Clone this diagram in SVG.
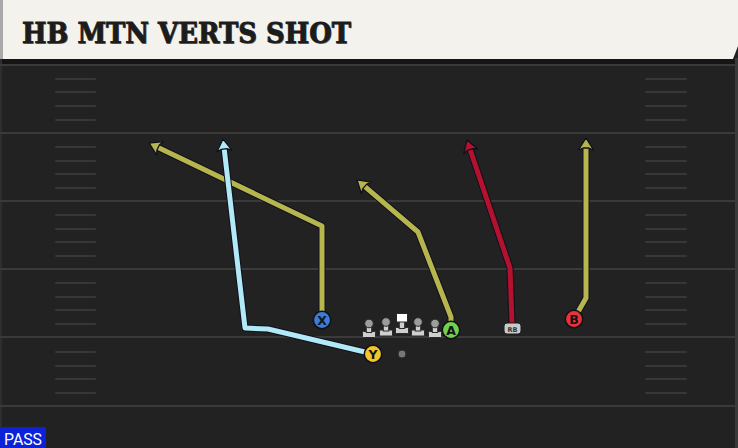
<svg xmlns="http://www.w3.org/2000/svg" width="738" height="448" viewBox="0 0 738 448">
<style>
.fl{stroke:#3a3a3a;stroke-width:2}
.hs{stroke:#373737;stroke-width:2;stroke-linecap:round}
.ol{fill:none;stroke:#10101c;stroke-width:7;stroke-linejoin:round;stroke-linecap:round}
.rt{fill:none;stroke-width:5;stroke-linejoin:round;stroke-linecap:round}
.yl{stroke:#b7b54d}
.bl{stroke:#b1e9f6}
.rd{stroke:#b3122f}
.pc{stroke:#111;stroke-width:1.5}
.lt{font-family:"DejaVu Sans",sans-serif;font-weight:bold;font-size:12.5px;fill:#151515;text-anchor:middle}
.lm{fill:#cfcfcf;stroke:#2a2a2a;stroke-width:1}
.hd{fill:#9d9d9d;stroke:#2a2a2a;stroke-width:1}
</style>
<defs>
<marker id="ay" markerUnits="userSpaceOnUse" markerWidth="30" markerHeight="30" refX="0" refY="0" orient="auto" overflow="visible"><path d="M6.5,0 L-5.5,-7.5 L-3.5,-2.8 L-3.5,2.8 L-5.5,7.5 Z" fill="#b7b54d" stroke="#10101c" stroke-width="1.3" stroke-linejoin="round"/></marker>
<marker id="ab" markerUnits="userSpaceOnUse" markerWidth="30" markerHeight="30" refX="0" refY="0" orient="auto" overflow="visible"><path d="M6.5,0 L-5.5,-7.5 L-3.5,-2.8 L-3.5,2.8 L-5.5,7.5 Z" fill="#b1e9f6" stroke="#10101c" stroke-width="1.3" stroke-linejoin="round"/></marker>
<marker id="ar" markerUnits="userSpaceOnUse" markerWidth="30" markerHeight="30" refX="0" refY="0" orient="auto" overflow="visible"><path d="M6.5,0 L-5.5,-7.5 L-3.5,-2.8 L-3.5,2.8 L-5.5,7.5 Z" fill="#b3122f" stroke="#10101c" stroke-width="1.3" stroke-linejoin="round"/></marker>
</defs>
<rect x="0" y="0" width="738" height="448" fill="#222222"/>
<rect x="0" y="58" width="738" height="6" fill="#151515"/>
<rect x="735" y="58" width="3" height="390" fill="#3a3a3a"/>
<rect x="0" y="58" width="2" height="390" fill="#2e2e2e"/>
<g id="field">
<line class="fl" x1="0" y1="65" x2="738" y2="65"/>
<line class="fl" x1="0" y1="133" x2="738" y2="133"/>
<line class="fl" x1="0" y1="201" x2="738" y2="201"/>
<line class="fl" x1="0" y1="269" x2="738" y2="269"/>
<line class="fl" x1="0" y1="337" x2="738" y2="337"/>
<line class="fl" x1="0" y1="406" x2="738" y2="406"/>
<g id="hashes">
<path class="hs" d="M56,79H95M56,92H95M56,106H95M56,120H95M56,147H95M56,161H95M56,174H95M56,188H95M56,215H95M56,229H95M56,242H95M56,256H95M56,283H95M56,297H95M56,310H95M56,324H95M56,352H95M56,366H95M56,379H95M56,393H95"/>
<path class="hs" d="M646,79H686M646,92H686M646,106H686M646,120H686M646,147H686M646,161H686M646,174H686M646,188H686M646,215H686M646,229H686M646,242H686M646,256H686M646,283H686M646,297H686M646,310H686M646,324H686M646,352H686M646,366H686M646,379H686M646,393H686"/>
</g>
</g>
<g id="title">
<path d="M0,0 H738 V46 L733,59 H0 Z" fill="#f4f2ec"/>
<rect x="0" y="0" width="3" height="59" fill="#a9a9a9"/>
<text x="22.8" y="43.8" font-family="DejaVu Serif, serif" font-weight="bold" font-size="28" fill="#8a8a8a" textLength="329" lengthAdjust="spacingAndGlyphs">HB MTN VERTS SHOT</text>
<text x="22" y="43" font-family="DejaVu Serif, serif" font-weight="bold" font-size="28" fill="#1c1c1c" stroke="#1c1c1c" stroke-width="0.9" textLength="329" lengthAdjust="spacingAndGlyphs">HB MTN VERTS SHOT</text>
</g>
<g id="connectors">
<path class="ol" d="M322,312 L322,226 L155,146"/>
<path class="rt yl" d="M322,312 L322,226 L155,146" marker-end="url(#ay)"/>
<path class="ol" d="M365,352 L268,329 L245,328 L223.8,145.5"/>
<path class="rt bl" d="M365,352 L268,329 L245,328 L223.8,145.5" marker-end="url(#ab)"/>
<path class="ol" d="M451,322 L451,317 L418,232 L362,184.2"/>
<path class="rt yl" d="M451,322 L451,317 L418,232 L362,184.2" marker-end="url(#ay)"/>
<path class="ol" d="M512,323 L510,268 L469,146.2"/>
<path class="rt rd" d="M512,323 L510,268 L469,146.2" marker-end="url(#ar)"/>
<path class="ol" d="M578,312 L586,298 L586,144.5"/>
<path class="rt yl" d="M578,312 L586,298 L586,144.5" marker-end="url(#ay)"/>
</g>
<g id="line">
<g id="lt1"><rect class="lm" x="362.5" y="331.5" width="13" height="6" rx="1"/><rect class="lm" x="366.3" y="323" width="5.4" height="9.5"/><circle class="hd" cx="369" cy="323.5" r="4.3"/></g>
<g id="lg1"><rect class="lm" x="379.5" y="330" width="13" height="6" rx="1"/><rect class="lm" x="383.3" y="321.5" width="5.4" height="9.5"/><circle class="hd" cx="386" cy="322" r="4.3"/></g>
<g id="c"><rect class="lm" x="395.5" y="327.5" width="13" height="6" rx="1"/><rect class="lm" x="399.3" y="321" width="5.4" height="7.5"/><rect x="396.5" y="313.5" width="11" height="8.5" fill="#ffffff" stroke="#2a2a2a" stroke-width="1"/></g>
<g id="rg1"><rect class="lm" x="411.5" y="330" width="13" height="6" rx="1"/><rect class="lm" x="415.3" y="321.5" width="5.4" height="9.5"/><circle class="hd" cx="418" cy="322" r="4.3"/></g>
<g id="rt1"><rect class="lm" x="428.5" y="331.5" width="13" height="6" rx="1"/><rect class="lm" x="432.3" y="323" width="5.4" height="9.5"/><circle class="hd" cx="435" cy="323.5" r="4.3"/></g>
</g>
<g id="qb"><circle cx="402" cy="354" r="4" fill="#777777" stroke="#2a2a2a" stroke-width="1"/></g>
<g id="X"><circle class="pc" cx="322" cy="320" r="8.7" fill="#3b7bd9"/><text class="lt" x="322" y="324.5">X</text></g>
<g id="Y"><circle class="pc" cx="373" cy="354" r="8.7" fill="#f2c52a"/><text class="lt" x="373" y="358.5">Y</text></g>
<g id="A"><circle class="pc" cx="451" cy="330" r="8.7" fill="#6fd24d"/><text class="lt" x="451" y="334.5">A</text></g>
<g id="B"><circle class="pc" cx="574" cy="319" r="8.7" fill="#e8323c"/><text class="lt" x="574" y="323.5">B</text></g>
<g id="RB"><rect x="504" y="323" width="17" height="11" rx="3" fill="#c9c9c9" stroke="#1a1a1a" stroke-width="1"/><text x="512.5" y="331.5" font-family="'DejaVu Sans',sans-serif" font-size="6.5" font-weight="bold" fill="#333" text-anchor="middle">RB</text></g>
<g id="pass"><rect x="0" y="427" width="46" height="21" fill="#0b22d8"/><text x="23" y="445" font-family="Roboto,'Liberation Sans',sans-serif" font-size="16" fill="#ffffff" text-anchor="middle" textLength="38" lengthAdjust="spacingAndGlyphs">PASS</text></g>
</svg>
